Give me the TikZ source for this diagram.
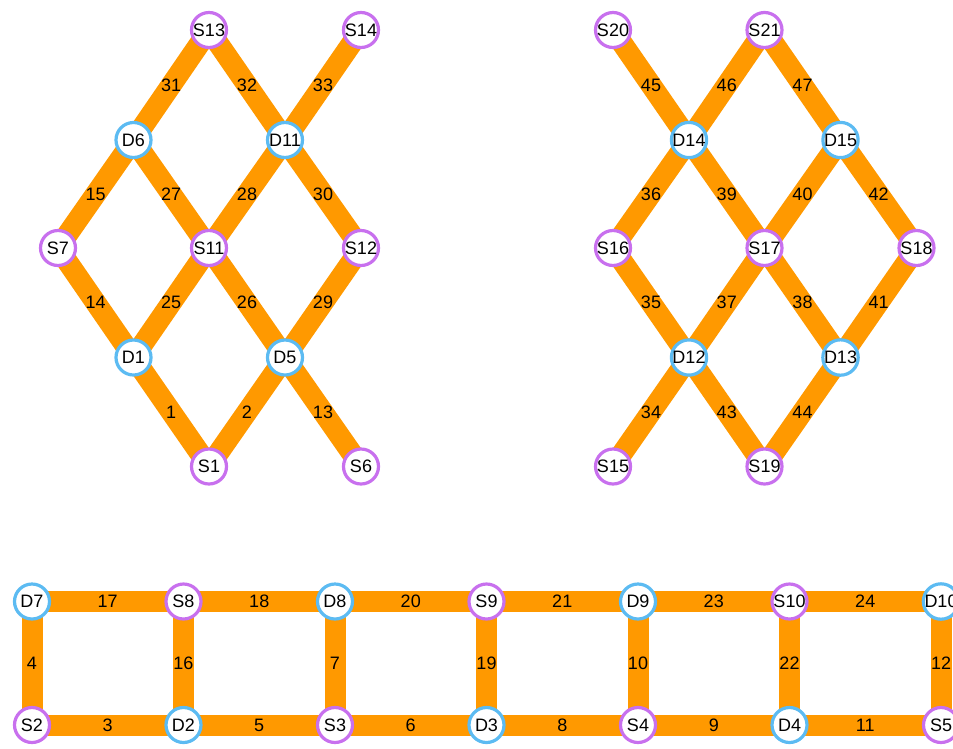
\documentclass[tikz,border=0pt]{standalone}
\usepackage{fontspec}
\setmainfont{Liberation Sans}
\usetikzlibrary{backgrounds}
\definecolor{linkorange}{RGB}{255,153,0}
\definecolor{dblue}{RGB}{92,187,242}
\definecolor{spurple}{RGB}{200,112,238}
\tikzset{
  base/.style={circle,draw,fill=white,line width=3.2pt,minimum size=35pt,inner sep=0pt,
    font=\fontsize{18}{18}\selectfont},
  dnode/.style={base,draw=dblue},
  snode/.style={base,draw=spurple},
  link/.style={draw=linkorange,line width=21pt},
  lbl/.style={font=\fontsize{18}{18}\selectfont,inner sep=0pt},
}
\begin{document}
\begin{tikzpicture}[x=1pt,y=-1pt]
      \useasboundingbox (0,0) rectangle (953,748);

      \node[snode] (S13) at (209,30) {S13};
      \node[snode] (S14) at (361,30) {S14};
      \node[dnode] (D6) at (133.5,140) {D6};
      \node[dnode] (D11) at (285,140) {D11};
      \node[snode] (S7) at (58,248) {S7};
      \node[snode] (S11) at (209,248) {S11};
      \node[snode] (S12) at (361,248) {S12};
      \node[dnode] (D1) at (133.5,357.5) {D1};
      \node[dnode] (D5) at (285,357.5) {D5};
      \node[snode] (S1) at (209,466.5) {S1};
      \node[snode] (S6) at (361,466.5) {S6};

      \node[snode] (S20) at (613,30) {S20};
      \node[snode] (S21) at (764.5,30) {S21};
      \node[dnode] (D14) at (689,140) {D14};
      \node[dnode] (D15) at (840.5,140) {D15};
      \node[snode] (S16) at (613,248) {S16};
      \node[snode] (S17) at (764.5,248) {S17};
      \node[snode] (S18) at (916.5,248) {S18};
      \node[dnode] (D12) at (689,357.5) {D12};
      \node[dnode] (D13) at (840.5,357.5) {D13};
      \node[snode] (S15) at (613,466.5) {S15};
      \node[snode] (S19) at (764.5,466.5) {S19};

      \node[dnode] (D7) at (32,601.5) {D7};
      \node[snode] (S8) at (183.5,601.5) {S8};
      \node[dnode] (D8) at (335,601.5) {D8};
      \node[snode] (S9) at (486.5,601.5) {S9};
      \node[dnode] (D9) at (638,601.5) {D9};
      \node[snode] (S10) at (789.5,601.5) {S10};
      \node[dnode] (D10) at (941,601.5) {D10};
      \node[snode] (S2) at (32,725) {S2};
      \node[dnode] (D2) at (183.5,725) {D2};
      \node[snode] (S3) at (335,725) {S3};
      \node[dnode] (D3) at (486.5,725) {D3};
      \node[snode] (S4) at (638,725) {S4};
      \node[dnode] (D4) at (789.5,725) {D4};
      \node[snode] (S5) at (941,725) {S5};

      \begin{pgfonlayer}{background}
      \draw[link] (D1.center) -- node[lbl] {1} (S1.center);
      \draw[link] (S1.center) -- node[lbl] {2} (D5.center);
      \draw[link] (D5.center) -- node[lbl] {13} (S6.center);
      \draw[link] (S7.center) -- node[lbl] {14} (D1.center);
      \draw[link] (D1.center) -- node[lbl] {25} (S11.center);
      \draw[link] (S11.center) -- node[lbl] {26} (D5.center);
      \draw[link] (D5.center) -- node[lbl] {29} (S12.center);
      \draw[link] (S7.center) -- node[lbl] {15} (D6.center);
      \draw[link] (D6.center) -- node[lbl] {27} (S11.center);
      \draw[link] (S11.center) -- node[lbl] {28} (D11.center);
      \draw[link] (D11.center) -- node[lbl] {30} (S12.center);
      \draw[link] (D6.center) -- node[lbl] {31} (S13.center);
      \draw[link] (S13.center) -- node[lbl] {32} (D11.center);
      \draw[link] (D11.center) -- node[lbl] {33} (S14.center);

      \draw[link] (S20.center) -- node[lbl] {45} (D14.center);
      \draw[link] (D14.center) -- node[lbl] {46} (S21.center);
      \draw[link] (S21.center) -- node[lbl] {47} (D15.center);
      \draw[link] (S16.center) -- node[lbl] {36} (D14.center);
      \draw[link] (D14.center) -- node[lbl] {39} (S17.center);
      \draw[link] (S17.center) -- node[lbl] {40} (D15.center);
      \draw[link] (D15.center) -- node[lbl] {42} (S18.center);
      \draw[link] (S16.center) -- node[lbl] {35} (D12.center);
      \draw[link] (D12.center) -- node[lbl] {37} (S17.center);
      \draw[link] (S17.center) -- node[lbl] {38} (D13.center);
      \draw[link] (D13.center) -- node[lbl] {41} (S18.center);
      \draw[link] (S15.center) -- node[lbl] {34} (D12.center);
      \draw[link] (D12.center) -- node[lbl] {43} (S19.center);
      \draw[link] (S19.center) -- node[lbl] {44} (D13.center);

      \draw[link] (D7.center) -- node[lbl] {17} (S8.center);
      \draw[link] (S8.center) -- node[lbl] {18} (D8.center);
      \draw[link] (D8.center) -- node[lbl] {20} (S9.center);
      \draw[link] (S9.center) -- node[lbl] {21} (D9.center);
      \draw[link] (D9.center) -- node[lbl] {23} (S10.center);
      \draw[link] (S10.center) -- node[lbl] {24} (D10.center);
      \draw[link] (S2.center) -- node[lbl] {3} (D2.center);
      \draw[link] (D2.center) -- node[lbl] {5} (S3.center);
      \draw[link] (S3.center) -- node[lbl] {6} (D3.center);
      \draw[link] (D3.center) -- node[lbl] {8} (S4.center);
      \draw[link] (S4.center) -- node[lbl] {9} (D4.center);
      \draw[link] (D4.center) -- node[lbl] {11} (S5.center);
      \draw[link] (D7.center) -- node[lbl] {4} (S2.center);
      \draw[link] (S8.center) -- node[lbl] {16} (D2.center);
      \draw[link] (D8.center) -- node[lbl] {7} (S3.center);
      \draw[link] (S9.center) -- node[lbl] {19} (D3.center);
      \draw[link] (D9.center) -- node[lbl] {10} (S4.center);
      \draw[link] (S10.center) -- node[lbl] {22} (D4.center);
      \draw[link] (D10.center) -- node[lbl] {12} (S5.center);
      \end{pgfonlayer}
    \end{tikzpicture}
\end{document}
